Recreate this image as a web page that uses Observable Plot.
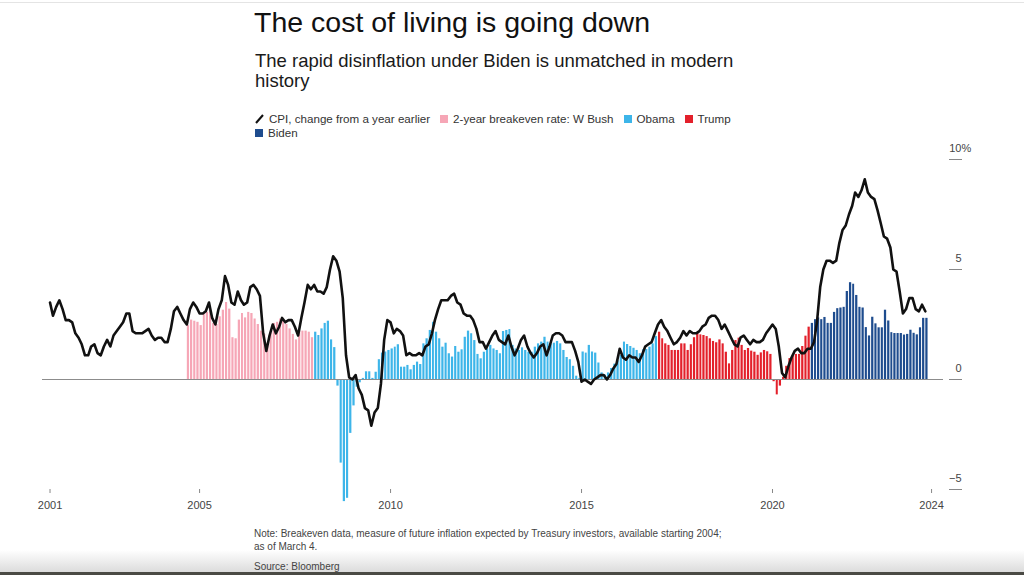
<!DOCTYPE html>
<html><head><meta charset="utf-8">
<script src="https://cdn.jsdelivr.net/npm/d3@7"></script>
<script src="https://cdn.jsdelivr.net/npm/@observablehq/plot@0.6"></script>
<style>
html,body{margin:0;padding:0;background:#fff;width:1024px;height:575px;overflow:hidden;font-family:"Liberation Sans",Arial,Helvetica,sans-serif;}
#page{position:relative;width:1024px;height:575px;}
#topline{position:absolute;left:0;top:2px;width:1024px;height:1px;background:#e4e4e4;}
#title{position:absolute;left:254px;top:8px;font-size:28.5px;line-height:28.5px;color:#111;white-space:nowrap;}
#subtitle{position:absolute;left:255px;top:50.5px;width:490px;font-size:18.5px;line-height:20px;color:#1a1a1a;}
#legend{position:absolute;left:255px;top:111.5px;width:490px;font-size:11.6px;line-height:14.5px;color:#333;}
#legend .item{display:inline-block;margin-right:10px;white-space:nowrap;}
#legend .sw{display:inline-block;width:8px;height:8px;margin-right:5px;vertical-align:0px;}
#legend svg{vertical-align:-1px;margin-right:5px;}
#chart{position:absolute;left:0;top:140px;}
#note{position:absolute;left:254px;top:527px;width:476px;font-size:10px;line-height:13px;color:#444;}
#source{position:absolute;left:254px;top:560px;font-size:10px;line-height:13px;color:#444;}
#fade{position:absolute;left:0;top:550px;width:1024px;height:22px;background:linear-gradient(rgba(255,255,255,0),#dcdcdc);}
#strip{position:absolute;left:0;top:572px;width:1024px;height:3px;background:#4a4a44;}
</style></head>
<body><div id="page">
<div id="topline"></div>
<div id="fade"></div>
<div id="strip"></div>
<div id="title">The cost of living is going down</div>
<div id="subtitle">The rapid disinflation under Biden is unmatched in modern history</div>
<div id="legend"></div>
<div id="chart"></div>
<div id="note">Note: Breakeven data, measure of future inflation expected by Treasury investors, available starting 2004; as of March 4.</div>
<div id="source">Source: Bloomberg</div>
</div>
<script>
// CPI, change from a year earlier (%), monthly, starting Feb 2001
const cpiStart = [2001, 1]; // year, month index (0 = Jan)
const cpiYoY = [
  3.5, 2.9, 3.3, 3.6, 3.2, 2.7, 2.7, 2.6, 2.1, 1.9, 1.6,
  1.1, 1.1, 1.5, 1.6, 1.2, 1.1, 1.5, 1.8, 1.5, 2.0, 2.2, 2.4,
  2.6, 3.0, 3.0, 2.2, 2.1, 2.1, 2.1, 2.2, 2.3, 2.0, 1.8, 1.9,
  1.9, 1.7, 1.7, 2.3, 3.1, 3.3, 3.0, 2.7, 2.5, 3.2, 3.5, 3.3,
  3.0, 3.0, 3.1, 3.5, 2.8, 2.5, 3.2, 3.6, 4.7, 4.3, 3.5, 3.4,
  4.0, 3.6, 3.4, 3.5, 4.2, 4.3, 4.1, 3.8, 2.1, 1.3, 2.0, 2.5,
  2.1, 2.4, 2.8, 2.6, 2.7, 2.7, 2.4, 2.0, 2.8, 3.5, 4.3, 4.1,
  4.3, 4.0, 4.0, 3.9, 4.2, 5.0, 5.6, 5.4, 4.9, 3.7, 1.1, 0.1,
  0.0, 0.2, -0.4, -0.7, -1.3, -1.4, -2.1, -1.5, -1.3, -0.2, 1.8, 2.7,
  2.6, 2.1, 2.3, 2.2, 2.0, 1.1, 1.2, 1.1, 1.1, 1.2, 1.1, 1.5,
  1.6, 2.1, 2.7, 3.2, 3.6, 3.6, 3.6, 3.8, 3.9, 3.5, 3.4, 3.0,
  2.9, 2.9, 2.7, 2.3, 1.7, 1.7, 1.4, 1.7, 2.0, 2.2, 1.8, 1.7,
  1.6, 2.0, 1.5, 1.1, 1.4, 1.8, 2.0, 1.5, 1.2, 1.0, 1.2, 1.5,
  1.6, 1.1, 1.5, 2.0, 2.1, 2.1, 2.0, 1.7, 1.7, 1.7, 1.3, 0.8,
  -0.1, 0.0, -0.1, -0.2, 0.0, 0.1, 0.2, 0.2, 0.0, 0.2, 0.5, 0.7,
  1.4, 1.0, 0.9, 1.1, 1.0, 1.0, 0.8, 1.1, 1.5, 1.6, 1.7, 2.1,
  2.5, 2.7, 2.4, 2.2, 1.9, 1.6, 1.7, 1.9, 2.2, 2.0, 2.2, 2.1,
  2.1, 2.2, 2.4, 2.5, 2.8, 2.9, 2.9, 2.7, 2.3, 2.5, 2.2, 1.9,
  1.6, 1.5, 1.9, 2.0, 1.8, 1.6, 1.8, 1.7, 1.7, 1.8, 2.1, 2.3,
  2.5, 2.3, 1.5, 0.3, 0.1, 0.6, 1.0, 1.3, 1.4, 1.2, 1.2, 1.4,
  1.4, 1.7, 2.6, 4.2, 5.0, 5.4, 5.4, 5.3, 5.4, 6.2, 6.8, 7.0,
  7.5, 7.9, 8.5, 8.3, 8.6, 9.1, 8.5, 8.3, 8.2, 7.7, 7.1, 6.5,
  6.4, 6.0, 5.0, 4.9, 4.0, 3.0, 3.2, 3.7, 3.7, 3.2, 3.1, 3.4,
  3.1
];

// 2-year breakeven rate (%), monthly, split by administration colour
const bushStart = [2004, 8];
const breakevenBush = [
  2.45, 2.7, 2.65, 2.6, 2.45, 3.0, 3.05, 3.15, 2.55, 2.5, 2.85, 3.15, 3.5, 3.2, 1.9, 1.85,
  2.7, 3.0, 2.8, 3.05, 3.0, 2.75, 2.5, 2.2, 2.05, 1.65, 2.15, 2.55, 2.6, 2.75, 2.7, 2.5,
  2.3, 2.05, 1.8, 2.2, 2.2, 2.2, 2.15, 1.9
];
const obamaStart = [2008, 0];
const breakevenObama = [
  2.15, 2.0, 2.3, 2.55, 2.65, 1.8, 1.45, -0.3, -3.8, -5.55, -5.4, -2.45,
  -1.2, -0.35, -0.15, 0.05, 0.35, 0.35, 0.05, 0.33, 0.9, 1.2, 1.25, 1.32,
  1.39, 1.47, 1.58, 0.56, 0.56, 0.64, 0.44, 0.64, 0.79, 0.68, 1.62, 1.85,
  2.23, 2.6, 2.15, 1.85, 1.47, 1.65, 1.17, 1.02, 1.5, 1.24, 1.35, 1.92,
  2.2, 2.08, 1.77, 1.14, 0.94, 1.24, 1.39, 1.55, 1.39, 1.32, 1.17, 2.18,
  2.23, 2.27, 1.55, 1.39, 1.32, 1.44, 1.32, 1.24, 1.24, 1.47, 1.62, 1.7,
  1.92, 1.7, 1.62, 1.65, 1.73, 1.62, 1.32, 1.0, 0.9, 0.6, 0.15, 0.05,
  1.25, 1.2, 1.55, 1.25, 1.2, 0.75, 0.3, 0.2, 0.3, 0.5, 0.7, 0.85,
  1.1, 1.7, 1.59, 1.5, 1.42, 1.32, 1.17, 1.35, 1.36, 1.47, 1.62, 1.95
];
const trumpStart = [2017, 0];
const breakevenTrump = [
  2.15, 1.85, 1.62, 1.55, 1.32, 1.32, 1.32, 1.62, 1.62, 1.32, 1.58, 1.9,
  2.12, 2.03, 2.0, 1.95, 1.85, 1.73, 1.67, 1.8, 1.62, 1.24, 0.71, 1.32,
  1.77, 1.88, 1.55, 1.32, 1.41, 1.29, 1.24, 1.1, 1.21, 1.32, 1.26, 1.14,
  -0.1, -0.7, -0.3, 0.1, 0.6, 0.95, 1.06, 1.14, 1.14, 1.5, 1.97, 2.38
];
const bidenStart = [2021, 0];
const breakevenBiden = [
  2.55, 2.72, 2.8, 2.72, 2.82, 2.55, 2.55, 3.05, 3.22, 3.25, 3.28, 4.0,
  4.4, 4.33, 3.82, 3.28, 3.25, 2.36, 1.98, 2.83, 2.53, 2.35, 2.35, 3.15,
  2.66, 2.13, 2.09, 2.09, 2.09, 2.02, 2.05, 2.24, 2.1, 2.03, 2.35, 2.78, 2.78
];

const seriesNames = ["W Bush", "Obama", "Trump", "Biden"];
const seriesColors = ["#f6a6b6", "#3db5e9", "#e3202b", "#1e4c8e"];
const legendLabels = ["CPI, change from a year earlier", "2-year breakeven rate: W Bush", "Obama", "Trump", "Biden"];

const xTickDates = [[2001, 1], [2005, 0], [2010, 0], [2015, 0], [2020, 0], [2024, 2]];
const yTicks = [-5, 0, 5, 10];

const month = ([y, m], i) => new Date(Date.UTC(y, m + i, 1));

const cpi = cpiYoY.map((v, i) => ({date: month(cpiStart, i), value: v}));
const groups = [[bushStart, breakevenBush], [obamaStart, breakevenObama], [trumpStart, breakevenTrump], [bidenStart, breakevenBiden]];
const bars = groups.flatMap(([start, vals], g) => vals.map((v, i) => ({
  start: month(start, i), end: month(start, i + 1), value: v, who: seriesNames[g]
})));

// legend
const legend = document.getElementById("legend");
legend.innerHTML =
  `<span class="item"><svg width="9" height="10"><line x1="1" y1="9" x2="8" y2="1" stroke="#111" stroke-width="2"/></svg>${legendLabels[0]}</span>` +
  legendLabels.slice(1).map((l, i) => `<span class="item"><span class="sw" style="background:${seriesColors[i]}"></span>${l}</span>`).join("");

const font = "'Liberation Sans', Arial, sans-serif";
const chart = Plot.plot({
  width: 1024, height: 380,
  marginLeft: 42, marginRight: 81, marginTop: 8, marginBottom: 31,
  x: {type: "utc", domain: [new Date(Date.UTC(2000, 10, 21)), new Date(Date.UTC(2024, 5, 23))]},
  y: {domain: [-5, 10.5]},
  color: {domain: seriesNames, range: seriesColors},
  style: {fontFamily: font, fontSize: "11px", color: "#444", background: "transparent", overflow: "visible"},
  marks: [
    Plot.rectY(bars, {x1: "start", x2: "end", y: "value", fill: "who", insetLeft: 0.5, insetRight: 0.5}),
    Plot.ruleY([0], {stroke: "#8c8c8c", strokeWidth: 1}),
    Plot.lineY(cpi, {x: "date", y: "value", stroke: "#111", strokeWidth: 2.6, strokeLinejoin: "round"}),
    Plot.axisX(xTickDates.map(d => month(d, 0)), {tickFormat: d3.utcFormat("%Y"), tickSize: 4, tickPadding: 8, stroke: "#888", fill: "#444", label: null}),
    Plot.axisY(yTicks, {anchor: "right", tickSize: 13, dx: 5, fill: "none", stroke: "#888", label: null}),
    Plot.axisY(yTicks, {anchor: "right", tickSize: 0, tickPadding: 18, textAnchor: "end", dy: -11, fill: "#444", label: null, tickFormat: d => d3.format("")(d)}),
    Plot.axisY([10], {anchor: "right", tickSize: 0, tickPadding: 18, textAnchor: "start", dy: -11, fill: "#444", label: null, tickFormat: () => "%"})
  ]
});
document.getElementById("chart").appendChild(chart);
</script>
</body></html>
